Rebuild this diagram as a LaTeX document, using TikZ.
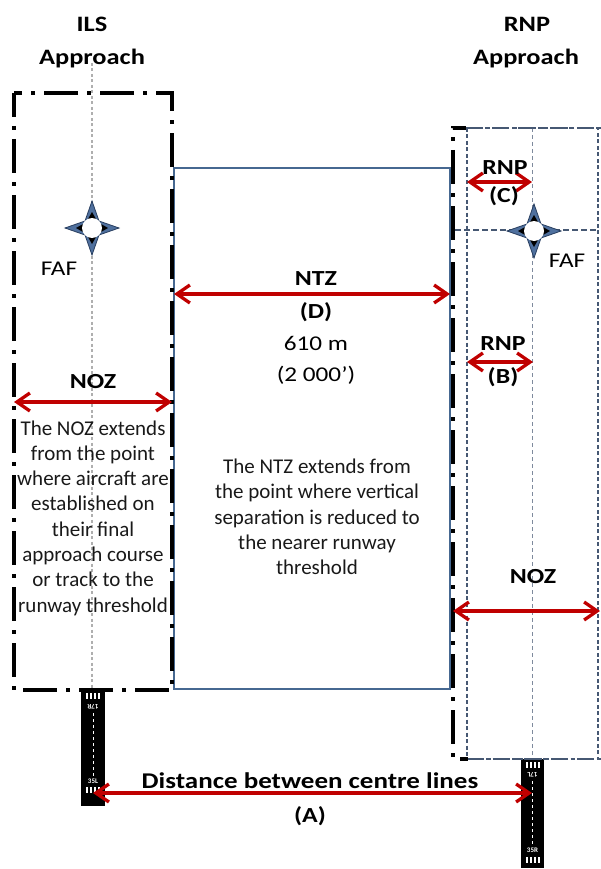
\documentclass[tikz,border=0pt]{standalone}
\usepackage{fontspec}
\setmainfont{Carlito}
\newfontfamily\widefont{Carlito}[FakeStretch=1.2]
\usetikzlibrary{arrows.meta}
\definecolor{arrred}{RGB}{192,0,0}
\definecolor{ntzblue}{RGB}{70,104,145}
\definecolor{slate}{RGB}{70,88,115}
\definecolor{cgrey}{RGB}{175,175,175}
\definecolor{starfill}{RGB}{79,112,158}
\definecolor{stardraw}{RGB}{40,62,95}
\begin{document}
\begin{tikzpicture}[x=1pt,y=-1pt,
  ttl/.style={font=\widefont\bfseries\fontsize{22}{26}\selectfont, inner sep=0, anchor=base},
  lbl/.style={font=\widefont\bfseries\fontsize{21.5}{25}\selectfont, inner sep=0, anchor=base},
  wtxt/.style={font=\widefont\fontsize{21}{25}\selectfont, inner sep=0, anchor=base},
  para/.style={font=\fontsize{21}{25.3}\selectfont, align=center, inner sep=0, text=black!90},
  arr/.style={draw=arrred, line width=3.3pt, >={Straight Barb[length=13pt,width=18pt]}, <->},
  cline/.style={draw=cgrey, line width=1.2pt, dash pattern=on 3pt off 2.5pt},
  ntzline/.style={draw=ntzblue, line width=2.8pt},
  dashdotline/.style={draw=black, line width=3.5pt, dash pattern=on 34pt off 9pt on 4pt off 9pt},
  slatedd/.style={draw=slate, line width=2.2pt, dash pattern=on 14pt off 5pt on 4pt off 5pt},
  thindash/.style={draw=slate, line width=1.1pt, dash pattern=on 4pt off 2.5pt},
  rnpcl/.style={draw=slate!70, line width=1pt, dash pattern=on 4pt off 3pt},
  rwy/.style={fill=black},
  rwytxt/.style={font=\bfseries\fontsize{7}{7}\selectfont, text=white, inner sep=0},
  faf/.pic={
    \fill[starfill, draw=stardraw, line width=0.8pt] (0,-27) -- (7,-7) -- (27,0) -- (7,7) -- (0,27) -- (-7,7) -- (-27,0) -- (-7,-7) -- cycle;
    \fill[black] (-4,-9) -- (4,-9) -- (0,-16) -- cycle;
    \fill[black] (-4,9) -- (4,9) -- (0,16) -- cycle;
    \fill[black] (-9,-4) -- (-9,4) -- (-16,0) -- cycle;
    \fill[black] (9,-4) -- (9,4) -- (16,0) -- cycle;
    \fill[white] (0,0) circle (10);
  },
  bars/.pic={
    \foreach \i in {0,1,2,3} \fill[white] (-7+\i*4,0) rectangle (-5+\i*4,6);
  }
]
\useasboundingbox (0,0) rectangle (601,869);

% ---------- coordinates
\coordinate (ilsTL) at (14,93);   \coordinate (ilsBR) at (172,690);
\coordinate (ntzTL) at (174,168); \coordinate (ntzBR) at (450,689);
\coordinate (rnpTL) at (467,128); \coordinate (rnpBR) at (598,759);
\coordinate (ilsCtop) at (92,63); \coordinate (ilsCbot) at (92,690);
\coordinate (rnpCtop) at (532,128); \coordinate (rnpCbot) at (532,759);

% ---------- runways
\fill[rwy] (81,690) rectangle (105,806);
\fill[rwy] (521,759) rectangle (544,868);
\draw[white, line width=0.8pt, dash pattern=on 3pt off 3pt] (93,713) -- (93,776);
\draw[white, line width=0.8pt, dash pattern=on 3pt off 3pt] (532.5,781) -- (532.5,844);
\pic at (93,693) {bars};
\pic at (93,787) {bars};
\pic at (532.5,762) {bars};
\pic at (532.5,857) {bars};
\node[rwytxt, rotate=180] (r17R) at (93,707) {17R};
\node[rwytxt] (r35L) at (93,781) {35L};
\node[rwytxt, rotate=180] (r17L) at (532.5,775) {17L};
\node[rwytxt] (r35R) at (532.5,850) {35R};

% ---------- centre lines
\draw[cline] (ilsCtop) -- (ilsCbot);
\draw[rnpcl] (rnpCtop) -- (rnpCbot);

% ---------- NTZ box
\draw[ntzline] (ntzTL) rectangle (ntzBR);

% ---------- ILS NOZ box
\draw[dashdotline, dash phase=10pt] (ilsTL) rectangle (ilsBR);

% ---------- RNP boxes
\draw[thindash] (rnpTL) rectangle (rnpBR);
\draw[slate, line width=1.8pt, dash pattern=on 6pt off 3pt] (455,230) -- (598,230);
\draw[slatedd] (466,128) -- (601,128);
\draw[slatedd] (468,759) -- (601,759);
\draw[dashdotline, dash phase=21pt] (466,128) -- (453,128) -- (453,759) -- (468,759);

% ---------- FAF
\pic at (92,228) {faf};
\pic at (534,231) {faf};
\node[wtxt] (faf1) at (59,275) {FAF};
\node[wtxt] (faf2) at (567,267) {FAF};

% ---------- titles
\node[ttl] (t1a) at (92,32) {ILS};
\node[ttl] (t1b) at (92,65) {Approach};
\node[ttl] (t2a) at (527,32) {RNP};
\node[ttl] (t2b) at (526,65) {Approach};

% ---------- arrows
\coordinate (nozL) at (14,402);  \coordinate (nozR) at (172,402);
\coordinate (ntzL) at (174,294); \coordinate (ntzR) at (450,294);
\coordinate (cL) at (467,182);   \coordinate (cR) at (532,182);
\coordinate (bL) at (467,362);   \coordinate (bR) at (533,362);
\coordinate (noz2L) at (453,611); \coordinate (noz2R) at (600,611);
\coordinate (aL) at (93,793);    \coordinate (aR) at (532,793);
\draw[arr] (nozL) -- (nozR);
\draw[arr] (ntzL) -- (ntzR);
\draw[arr] (cL) -- (cR);
\draw[arr] (bL) -- (bR);
\draw[arr] (noz2L) -- (noz2R);
\draw[arr] (aL) -- (aR);

% ---------- labels
\node[lbl] (lnoz1) at (93,388) {NOZ};
\node[lbl] (lntz) at (316,285) {NTZ};
\node[lbl] (ld) at (316,318) {(D)};
\node[wtxt] (l610) at (316,350) {610 m};
\node[wtxt] (l2000) at (316,381) {(2 000’)};
\node[lbl] (lrnpc) at (505,175) {RNP};
\node[lbl] (lc) at (504,202) {(C)};
\node[lbl] (lrnpb) at (503,350) {RNP};
\node[lbl] (lb) at (503,383) {(B)};
\node[lbl] (lnoz2) at (533,583) {NOZ};
\node[lbl, font=\widefont\bfseries\fontsize{22.5}{25}\selectfont] (ldist) at (310,788) {Distance between centre lines};
\node[lbl] (la) at (310,822) {(A)};

% ---------- paragraphs
\node[para] (pnoz) at (93,518) {The NOZ extends\\from the point\\where aircraft are\\established on\\their final\\approach course\\or track to the\\runway threshold};
\node[para] (pntz) at (317,517) {The NTZ extends from\\the point where vertical\\separation is reduced to\\the nearer runway\\threshold};
\end{tikzpicture}
\end{document}
